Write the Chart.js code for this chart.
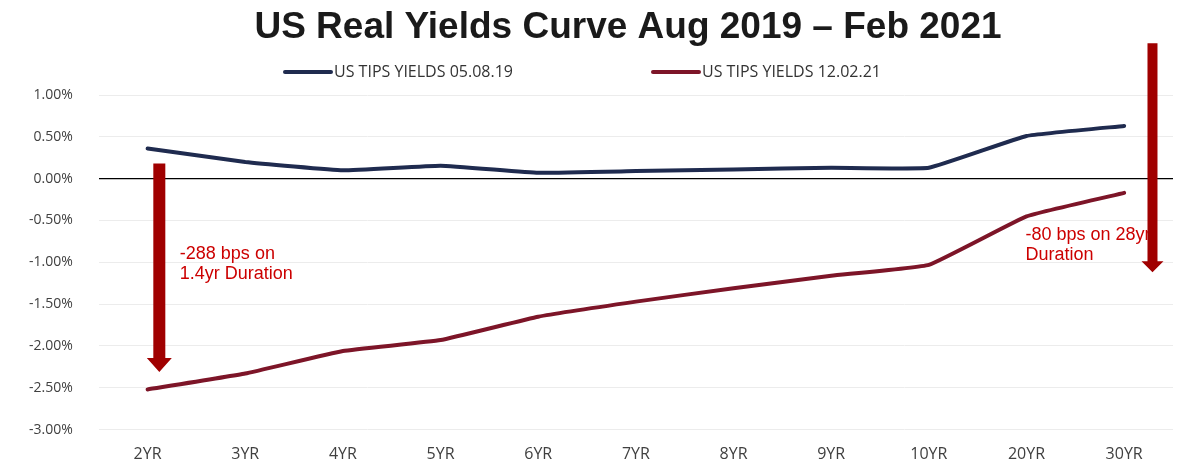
<!DOCTYPE html>
<html>
<head>
<meta charset="utf-8">
<script src="https://cdn.jsdelivr.net/npm/chart.js@4"></script>
<style>
  html,body{margin:0;padding:0;background:#fff;}
  #wrap{width:1179px;height:464px;position:relative;}
</style>
</head>
<body>
<div id="wrap"><canvas id="cv"></canvas></div>
<script>
// ── data ─────────────────────────────────────────
const TENORS   = ['2YR','3YR','4YR','5YR','6YR','7YR','8YR','9YR','10YR','20YR','30YR'];
const TIPS_AUG = [0.36, 0.20, 0.10, 0.155, 0.07, 0.09, 0.11, 0.13, 0.13, 0.51, 0.63];
const TIPS_FEB = [-2.52, -2.33, -2.06, -1.93, -1.65, -1.47, -1.31, -1.16, -1.03, -0.45, -0.17];
const SERIES_NAMES = ['US TIPS YIELDS 05.08.19', 'US TIPS YIELDS 12.02.21'];
const Y_TICKS  = [-3, -2.5, -2, -1.5, -1, -0.5, 0, 0.5, 1];
const TITLE = 'US Real Yields Curve Aug 2019 – Feb 2021';

// arrows: [category index, from %, to %]
const ARROWS = [[0.12, 0.18, -2.31], [10.29, 1.62, -1.12]];
// notes: [category index, top line %, lines]
const NOTES = [
  [0.33, -0.9, ['-288 bps on', '1.4yr Duration']],
  [8.99, -0.67, ['-80 bps on 28yr', 'Duration']]
];

const NAVY='#1f2b4f', WINE='#7d1528', ARROW='#a00000', NOTE='#cc0000';
const TICKFONT="'Open Sans', sans-serif";

// title + legend + arrows + notes
const decor = {
  id:'decor',
  afterDraw(c){
    const ctx=c.ctx, x=c.scales.x, y=c.scales.y;
    ctx.save();
    ctx.textBaseline='middle';
    // title
    ctx.font="bold 37px 'Liberation Sans', Arial, sans-serif";
    ctx.fillStyle='#1a1a1a'; ctx.textAlign='center';
    ctx.fillText(TITLE, 628, 28);
    // legend
    const items=[[283,NAVY],[651,WINE]];
    ctx.font="16px "+TICKFONT; ctx.textAlign='left';
    items.forEach(([lx,col],i)=>{
      ctx.strokeStyle=col; ctx.lineWidth=4; ctx.lineCap='round';
      ctx.beginPath(); ctx.moveTo(lx+2,72); ctx.lineTo(lx+48,72); ctx.stroke();
      ctx.fillStyle='#333'; ctx.fillText(c.data.datasets[i].label, lx+51, 72);
    });
    // notes
    ctx.font="18px 'Liberation Sans', Arial, sans-serif"; ctx.fillStyle=NOTE;
    NOTES.forEach(([xi,yv,lines])=>{
      const px=x.getPixelForValue(xi), py=y.getPixelForValue(yv);
      lines.forEach((t,k)=>ctx.fillText(t, px, py+k*20));
    });
    // arrows
    ctx.fillStyle=ARROW;
    ARROWS.forEach(([xi,a,b],k)=>{
      const px=x.getPixelForValue(xi), y0=y.getPixelForValue(a), y1=y.getPixelForValue(b);
      const sw=k?5:6, hw=k?11:12.5, hh=k?11:14;
      ctx.beginPath();
      ctx.moveTo(px-sw,y0); ctx.lineTo(px+sw,y0); ctx.lineTo(px+sw,y1-hh);
      ctx.lineTo(px+hw,y1-hh); ctx.lineTo(px,y1); ctx.lineTo(px-hw,y1-hh);
      ctx.lineTo(px-sw,y1-hh); ctx.closePath(); ctx.fill();
    });
    ctx.restore();
  }
};

new Chart(document.getElementById('cv'),{
  type:'line',
  data:{
    labels:TENORS,
    datasets:[
      {label:SERIES_NAMES[0],data:TIPS_AUG,borderColor:NAVY,backgroundColor:NAVY,borderWidth:4,pointRadius:0,tension:0.1,borderCapStyle:'round'},
      {label:SERIES_NAMES[1],data:TIPS_FEB,borderColor:WINE,backgroundColor:WINE,borderWidth:4,pointRadius:0,tension:0.1,borderCapStyle:'round'}
    ]
  },
  options:{
    responsive:true, maintainAspectRatio:false, animation:false,
    layout:{padding:{top:95,right:6,left:3,bottom:0}},
    plugins:{legend:{display:false},tooltip:{enabled:false},title:{display:false}},
    scales:{
      x:{offset:true,grid:{display:false,drawTicks:false},border:{display:false},
        afterFit(s){s.height=34;},
        ticks:{color:'#404040',font:{family:TICKFONT,size:16},padding:15}},
      y:{min:-3,max:1,border:{display:false},
        afterBuildTicks(s){s.ticks=Y_TICKS.map(v=>({value:v}));},
        grid:{color:c=>c.tick.value===0?'#000':'#ececec',lineWidth:c=>c.tick.value===0?1.2:1,drawTicks:false},
        ticks:{color:'#404040',font:{family:TICKFONT,size:14},padding:26,callback:v=>v.toFixed(2)+'%'}}
    }
  },
  plugins:[decor]
});
</script>
</body>
</html>
